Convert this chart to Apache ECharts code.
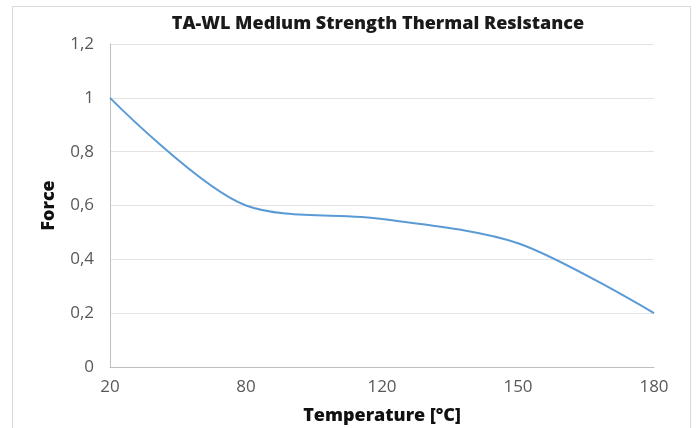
<!DOCTYPE html>
<html>
<head>
<meta charset="utf-8">
<script src="https://cdn.jsdelivr.net/npm/echarts@6/dist/echarts.min.js"></script>
<style>
  html, body { margin: 0; padding: 0; background: #fff; }
  #frame { position: absolute; left: 12px; top: 6px; width: 679px; height: 440px; border: 1px solid #d9d9d9; box-sizing: border-box; }
  #chart { position: absolute; left: 0; top: 0; width: 697px; height: 428px; }
</style>
</head>
<body>
<div id="frame"></div>
<div id="chart"></div>
<script>
// temperatures (°C) and force values
var temps = ['20', '80', '120', '150', '180'];
var force = [1, 0.6, 0.55, 0.46, 0.2];

var myChart = echarts.init(document.getElementById('chart'));

var option = {
    animation: false,
    textStyle: { fontFamily: 'Open Sans' },
    title: {
        text: 'TA-WL Medium Strength Thermal Resistance',
        left: 373,
        top: 10,
        textAlign: 'center',
        textStyle: { fontSize: 18, fontWeight: 800, color: '#1a1a1a', fontFamily: 'Open Sans' }
    },
    grid: { left: 110, right: 43, top: 44, bottom: 61, outerBoundsMode: 'none' },
    xAxis: {
        type: 'category',
        boundaryGap: false,
        data: temps,
        name: 'Temperature [°C]',
        nameLocation: 'middle',
        nameGap: 40,
        nameTextStyle: { fontSize: 18, fontWeight: 800, color: '#111' },
        axisLine: { lineStyle: { color: '#bfbfbf', width: 1 } },
        axisTick: { show: false },
        axisLabel: { fontSize: 17, color: '#595959', margin: 12 },
        splitLine: { show: false }
    },
    yAxis: {
        type: 'value',
        min: 0,
        max: 1.2,
        interval: 0.2,
        name: 'Force',
        nameLocation: 'middle',
        nameGap: 52,
        nameTextStyle: { fontSize: 18, fontWeight: 800, color: '#111' },
        axisLine: { show: true, lineStyle: { color: '#bfbfbf', width: 1 } },
        axisTick: { show: false },
        axisLabel: {
            fontSize: 17,
            color: '#595959',
            margin: 16,
            formatter: function(v) {
                return String(Math.round(v * 10) / 10).replace('.', ',');
            }
        },
        splitLine: { lineStyle: { color: '#e3e3e3', width: 1 } }
    },
    series: [{
        type: 'line',
        data: force,
        smooth: 0.3,
        showSymbol: false,
        lineStyle: { color: '#5b9bd5', width: 2 },
        itemStyle: { color: '#5b9bd5' }
    }]
};

myChart.setOption(option);
</script>
</body>
</html>
